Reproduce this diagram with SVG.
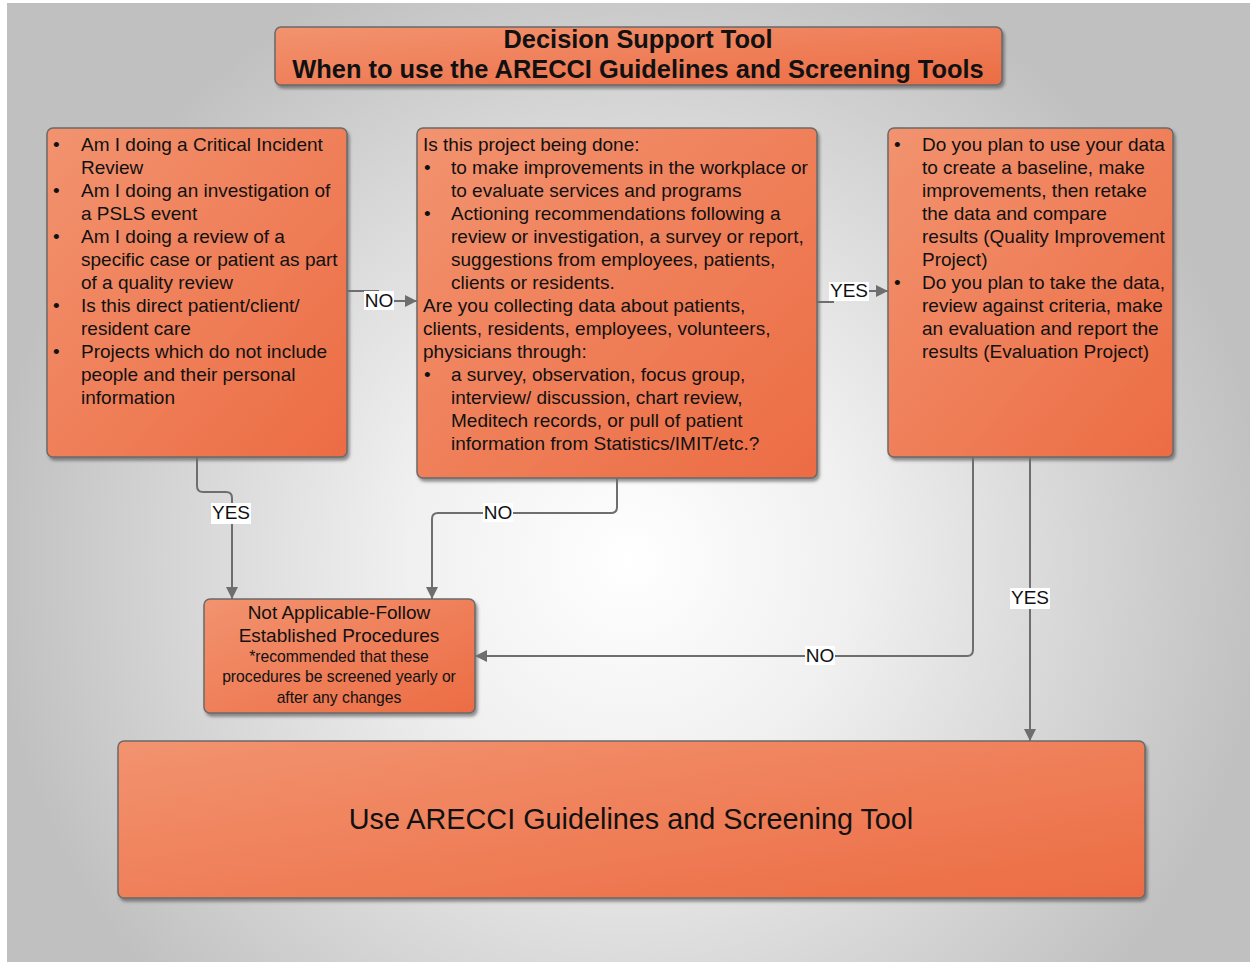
<svg xmlns="http://www.w3.org/2000/svg" width="1250" height="962" viewBox="0 0 1250 962">
<defs>
<radialGradient id="bg" gradientUnits="userSpaceOnUse" cx="630" cy="560" r="640">
<stop offset="0" stop-color="#ffffff"/>
<stop offset="0.35" stop-color="#f0f0f0"/>
<stop offset="1" stop-color="#c0c0c0"/>
</radialGradient>
<linearGradient id="box" x1="0" y1="0" x2="1" y2="1">
<stop offset="0" stop-color="#f2936f"/>
<stop offset="1" stop-color="#ec6c44"/>
</linearGradient>
<filter id="sh" x="-5%" y="-5%" width="115%" height="115%">
<feDropShadow dx="2" dy="3" stdDeviation="1.5" flood-color="#404040" flood-opacity="0.55"/>
</filter>
<marker id="arr" markerUnits="userSpaceOnUse" markerWidth="14" markerHeight="14" refX="12" refY="7" orient="auto">
<path d="M0,1 L12,7 L0,13 Z" fill="#6e6e6e"/>
</marker>
</defs>
<style>
.node rect{fill:url(#box);stroke:#6a6a6a;stroke-width:1.5;filter:url(#sh)}
text{font-family:"Liberation Sans",Arial,sans-serif;fill:#111}
.t{font-size:19px}
.title{font-size:25.4px;font-weight:bold;text-anchor:middle}
.c{text-anchor:middle}
.s{font-size:15.7px}
.conn path{fill:none;stroke:#6e6e6e;stroke-width:2}
.lbl rect{fill:#fff}
.lbl text{font-size:19px;text-anchor:middle}
</style>
<rect x="7" y="3" width="1243" height="959" fill="url(#bg)"/>

<g id="title" class="node">
<rect x="275" y="27" width="727" height="58" rx="6"/>
<text class="title" x="638" y="48">Decision Support Tool</text>
<text class="title" x="638" y="78">When to use the ARECCI Guidelines and Screening Tools</text>
</g>

<g id="q1" class="node">
<rect x="47" y="128" width="300" height="329" rx="6"/>
<g class="t">
<text x="53" y="151">•</text><text x="81" y="151">Am I doing a Critical Incident</text>
<text x="81" y="174">Review</text>
<text x="53" y="197">•</text><text x="81" y="197">Am I doing an investigation of</text>
<text x="81" y="220">a PSLS event</text>
<text x="53" y="243">•</text><text x="81" y="243">Am I doing a review of a</text>
<text x="81" y="266">specific case or patient as part</text>
<text x="81" y="289">of a quality review</text>
<text x="53" y="312">•</text><text x="81" y="312">Is this direct patient/client/</text>
<text x="81" y="335">resident care</text>
<text x="53" y="358">•</text><text x="81" y="358">Projects which do not include</text>
<text x="81" y="381">people and their personal</text>
<text x="81" y="404">information</text>
</g>
</g>

<g id="q2" class="node">
<rect x="417" y="128" width="400" height="350" rx="6"/>
<g class="t">
<text x="423" y="151">Is this project being done:</text>
<text x="424" y="174">•</text><text x="451" y="174">to make improvements in the workplace or</text>
<text x="451" y="197">to evaluate services and programs</text>
<text x="424" y="220">•</text><text x="451" y="220">Actioning recommendations following a</text>
<text x="451" y="243">review or investigation, a survey or report,</text>
<text x="451" y="266">suggestions from employees, patients,</text>
<text x="451" y="289">clients or residents.</text>
<text x="423" y="312">Are you collecting data about patients,</text>
<text x="423" y="335">clients, residents, employees, volunteers,</text>
<text x="423" y="358">physicians through:</text>
<text x="424" y="381">•</text><text x="451" y="381">a survey, observation, focus group,</text>
<text x="451" y="404">interview/ discussion, chart review,</text>
<text x="451" y="427">Meditech records, or pull of patient</text>
<text x="451" y="450">information from Statistics/IMIT/etc.?</text>
</g>
</g>

<g id="q3" class="node">
<rect x="888" y="128" width="285" height="329" rx="6"/>
<g class="t">
<text x="894" y="151">•</text><text x="922" y="151">Do you plan to use your data</text>
<text x="922" y="174">to create a baseline, make</text>
<text x="922" y="197">improvements, then retake</text>
<text x="922" y="220">the data and compare</text>
<text x="922" y="243">results (Quality Improvement</text>
<text x="922" y="266">Project)</text>
<text x="894" y="289">•</text><text x="922" y="289">Do you plan to take the data,</text>
<text x="922" y="312">review against criteria, make</text>
<text x="922" y="335">an evaluation and report the</text>
<text x="922" y="358">results (Evaluation Project)</text>
</g>
</g>

<g id="na" class="node">
<rect x="204" y="599" width="271" height="114" rx="6"/>
<text class="t c" x="339" y="619">Not Applicable-Follow</text>
<text class="t c" x="339" y="642">Established Procedures</text>
<text class="c s" x="339" y="662">*recommended that these</text>
<text class="c s" x="339" y="682">procedures be screened yearly or</text>
<text class="c s" x="339" y="703">after any changes</text>
</g>

<g id="use" class="node">
<rect x="118" y="741" width="1027" height="157" rx="6"/>
<text class="c" x="631" y="829" font-size="28.8">Use ARECCI Guidelines and Screening Tool</text>
</g>

<g id="connectors" class="conn">
<path d="M347,291 H378 V301 H417" marker-end="url(#arr)"/>
<path d="M817,302 H833 V291 H888" marker-end="url(#arr)"/>
<path d="M197,457 V486 Q197,492 203,492 H226 Q232,492 232,498 V599" marker-end="url(#arr)"/>
<path d="M617,478 V507 Q617,513 611,513 H438 Q432,513 432,519 V599" marker-end="url(#arr)"/>
<path d="M973,457 V650 Q973,656 967,656 H475" marker-end="url(#arr)"/>
<path d="M1030,457 V741" marker-end="url(#arr)"/>
<g class="lbl">
<rect x="364" y="291" width="30" height="19"/><text x="379" y="307">NO</text>
<rect x="829" y="282" width="40" height="19"/><text x="849" y="297">YES</text>
<rect x="211" y="503" width="40" height="21"/><text x="231" y="519">YES</text>
<rect x="483" y="503" width="30" height="19"/><text x="498" y="519">NO</text>
<rect x="805" y="646" width="30" height="19"/><text x="820" y="662">NO</text>
<rect x="1010" y="588" width="40" height="21"/><text x="1030" y="604">YES</text>
</g>
</g>
</svg>
